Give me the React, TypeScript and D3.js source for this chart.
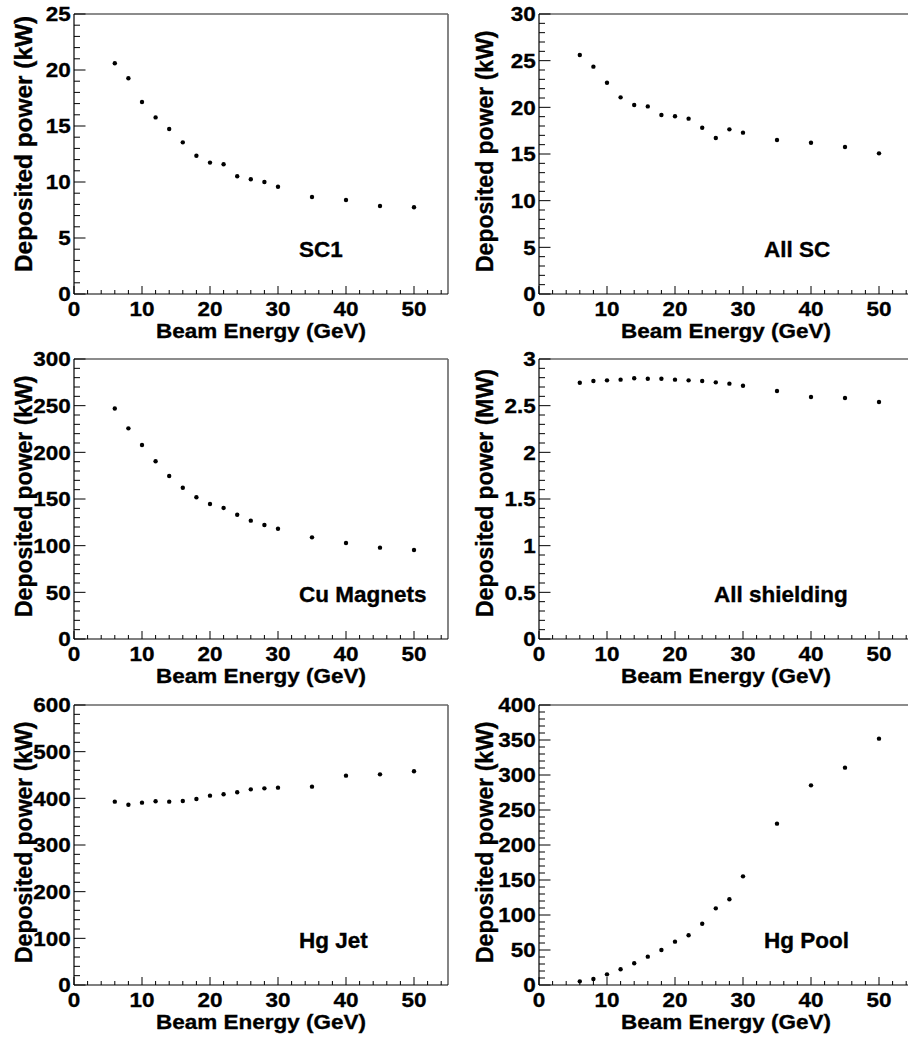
import React from "react";
import * as d3 from "d3";

const energies = [6, 8, 10, 12, 14, 16, 18, 20, 22, 24, 26, 28, 30, 35, 40, 45, 50];

const sc1 = [20.6, 19.26, 17.14, 15.77, 14.73, 13.54, 12.35, 11.73, 11.58, 10.51, 10.24, 10.0, 9.58, 8.66, 8.39, 7.86, 7.74];
const allSC = [25.6, 24.36, 22.64, 21.07, 20.25, 20.1, 19.18, 19.04, 18.79, 17.82, 16.71, 17.64, 17.29, 16.5, 16.21, 15.75, 15.07];
const cuMagnets = [247, 225.7, 207.9, 190.4, 174.6, 162.1, 151.8, 144.6, 140.4, 133.2, 126.8, 122.1, 118.2, 108.9, 102.9, 97.9, 95.4];
const allShielding = [2.746, 2.764, 2.771, 2.779, 2.793, 2.789, 2.789, 2.779, 2.771, 2.764, 2.75, 2.736, 2.714, 2.657, 2.593, 2.582, 2.539];
const hgJet = [392.9, 386.4, 390.7, 393.6, 392.9, 394.3, 398.6, 405.7, 408.6, 412.9, 419.3, 421.4, 422.9, 425, 448.6, 451.4, 457.9];
const hgPool = [5.2, 8.6, 15.2, 22.4, 31, 40.5, 50, 61.9, 71, 87.6, 109.5, 122.4, 155.2, 230.5, 285.2, 310.5, 351.9];

const xTicks = [0, 10, 20, 30, 40, 50];
const xTitle = "Beam Energy (GeV)";

const panelNames = ["SC1", "All SC", "Cu Magnets", "All shielding", "Hg Jet", "Hg Pool"];
const yTitles = [
  "Deposited power (kW)",
  "Deposited power (kW)",
  "Deposited power (kW)",
  "Deposited power (MW)",
  "Deposited power (kW)",
  "Deposited power (kW)",
];
const yMaxes = [25, 30, 300, 3, 600, 400];
const yMajorSteps = [5, 5, 50, 0.5, 100, 50];
const series = [sc1, allSC, cuMagnets, allShielding, hgJet, hgPool];

// layout (styles, not data)
const W = 374;
const H = 280;
const lefts = [74, 539];
const tops = [14, 359, 705];
const labelOffsets = [225, 225, 225, 175, 225, 225];
const FONT = "'Liberation Sans', Arial, Helvetica, sans-serif";
const FS = 22.5;
const SY = 0.92;
const TS = 0.35; // slight stroke to thicken glyphs

function fmt(v: number) {
  return String(Math.round(v * 1000) / 1000);
}

function Panel({ idx }: { idx: number }) {
  const col = idx % 2;
  const row = Math.floor(idx / 2);
  const x0 = lefts[col];
  const y0 = tops[row];
  const x = d3.scaleLinear().domain([0, 55]).range([x0, x0 + W]);
  const y = d3.scaleLinear().domain([0, yMaxes[idx]]).range([y0 + H, y0]);
  const step = yMajorSteps[idx];
  const nMajor = Math.round(yMaxes[idx] / step);
  const yMajor = d3.range(nMajor + 1).map((i) => i * step);
  const yMinor = d3.range(nMajor * 5 + 1).map((i) => (i * step) / 5);
  const xMinor = d3.range(0, 56, 2);
  const bottom = y0 + H;
  const data = series[idx];
  const titleFs = idx === 0 ? 24.4 : 23;
  const titleX = col === 0 ? 32 : 492.5;
  const textProps = {
    fontFamily: FONT,
    fontWeight: "bold" as const,
    fill: "#000",
    stroke: "#000",
    strokeWidth: TS,
  };

  return (
    <g>
      {/* frame top & right */}
      <line x1={x0} x2={x0 + W} y1={y0} y2={y0} stroke="#666" strokeWidth={1.6} />
      <line x1={x0 + W} x2={x0 + W} y1={y0} y2={bottom} stroke="#666" strokeWidth={1.6} />
      {/* axes */}
      <line x1={x0} x2={x0 + W} y1={bottom} y2={bottom} stroke="#000" strokeWidth={1.2} />
      <line x1={x0} x2={x0} y1={y0} y2={bottom} stroke="#000" strokeWidth={1.2} />
      {/* y ticks */}
      {yMinor.map((v, i) => (
        <line key={"ym" + i} x1={x0} x2={x0 + (i % 5 === 0 ? 11.5 : 6)} y1={y(v)} y2={y(v)} stroke="#000" strokeWidth={1} />
      ))}
      {/* x ticks */}
      {xMinor.map((v, i) => (
        <line key={"xm" + i} x1={x(v)} x2={x(v)} y1={bottom} y2={bottom - (v % 10 === 0 ? 8 : 4)} stroke="#000" strokeWidth={1} />
      ))}
      {/* y tick labels */}
      {yMajor.map((v, i) => (
        <text
          key={"yl" + i}
          transform={`translate(${x0 - 3.3},${y(v) + 7.4}) scale(1,${SY})`}
          textAnchor="end"
          fontSize={FS}
          {...textProps}
        >
          {fmt(v)}
        </text>
      ))}
      {/* x tick labels */}
      {xTicks.map((v, i) => (
        <text
          key={"xl" + i}
          transform={`translate(${x(v)},${bottom + 22}) scale(1,${SY})`}
          textAnchor="middle"
          fontSize={FS}
          {...textProps}
        >
          {fmt(v)}
        </text>
      ))}
      {/* x title */}
      <text
        transform={`translate(${x0 + W / 2},${bottom + 43.5}) scale(1,${SY})`}
        textAnchor="middle"
        fontSize={FS}
        {...textProps}
      >
        {xTitle}
      </text>
      {/* y title */}
      <text
        transform={`translate(${titleX},${bottom - 22}) rotate(-90)`}
        textAnchor="start"
        fontSize={titleFs}
        {...textProps}
      >
        {yTitles[idx]}
      </text>
      {/* panel label */}
      <text
        transform={`translate(${x0 + labelOffsets[idx]},${bottom - 36.7}) scale(1,0.95)`}
        textAnchor="start"
        fontSize={FS}
        {...textProps}
      >
        {panelNames[idx]}
      </text>
      {/* points */}
      {data.map((v, i) => (
        <circle key={"p" + i} cx={x(energies[i])} cy={y(v)} r={2.2} fill="#000" />
      ))}
    </g>
  );
}

export default function App() {
  return (
    <svg
      width={908}
      height={1040}
      style={{ position: "absolute", left: 0, top: 0, background: "#fff" }}
    >
      <rect x={0} y={0} width={908} height={1040} fill="#fff" />
      {[0, 1, 2, 3, 4, 5].map((i) => (
        <Panel key={i} idx={i} />
      ))}
    </svg>
  );
}
